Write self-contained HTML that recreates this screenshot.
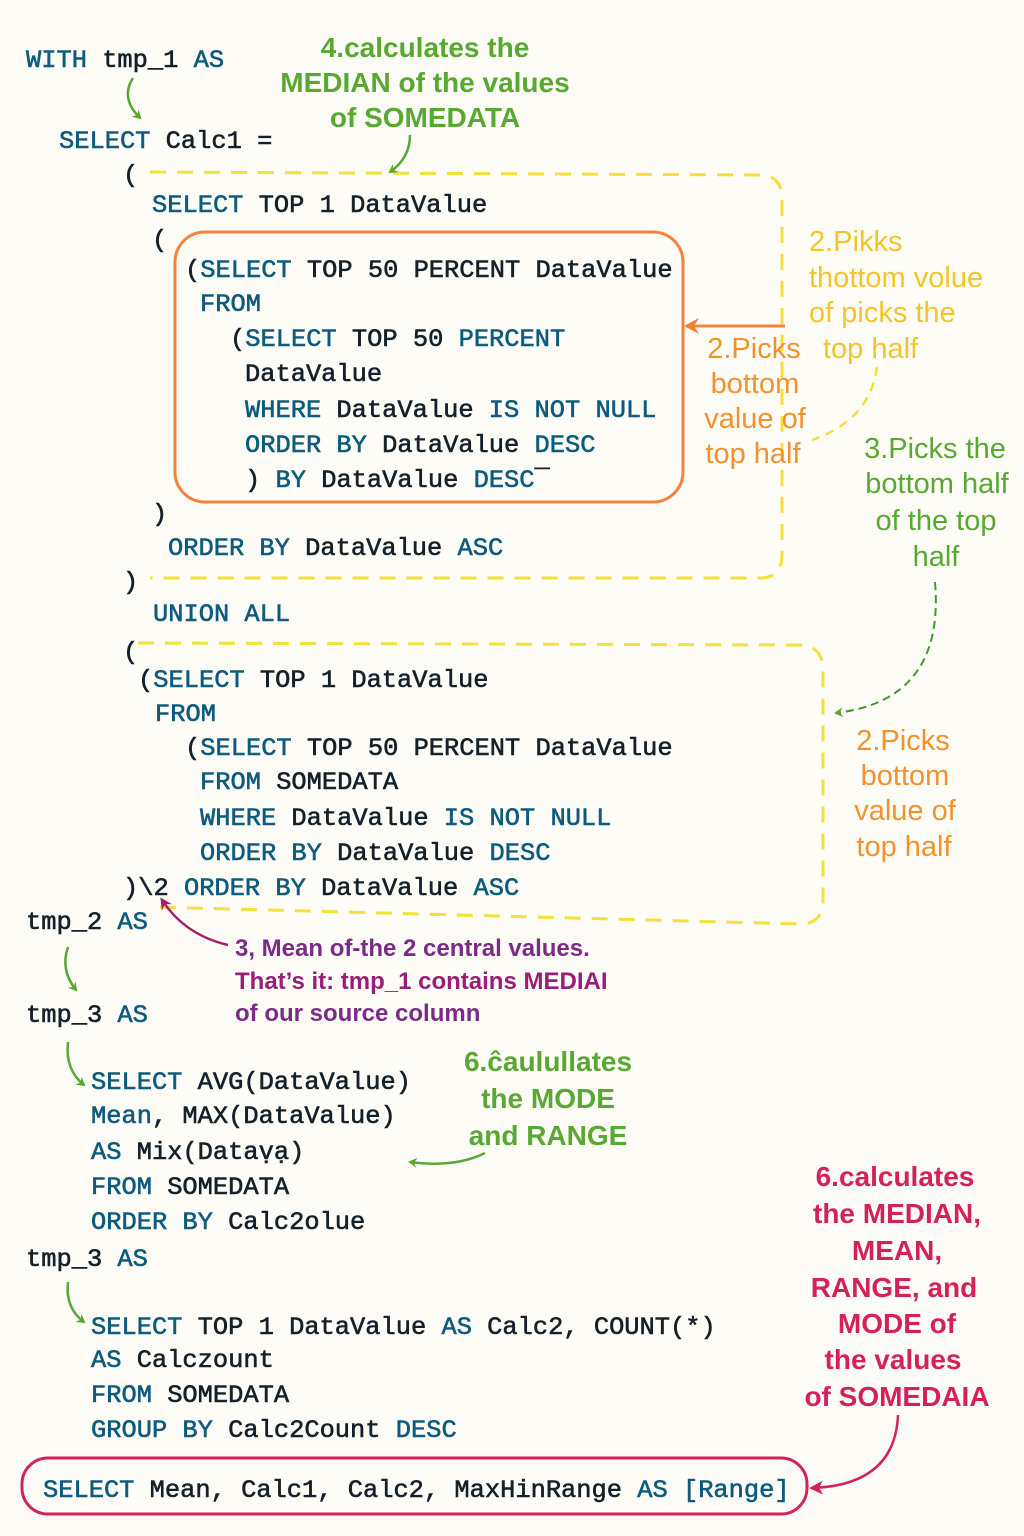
<!DOCTYPE html>
<html><head><meta charset="utf-8"><style>
html,body{margin:0;padding:0;background:#fdfcf7;}
svg{display:block}
.c{font-family:"Liberation Mono",monospace;font-size:25.4px;fill:#14202a;stroke:#14202a;stroke-width:0.6px;}
.k{fill:#0d5b7e;stroke:#0d5b7e;}
.a{font-family:"Liberation Sans",sans-serif;font-size:28px;}
.g{fill:#58a832;}
.y{fill:#f4c52a;}
.o{fill:#f3922c;}
.p{fill:#7b2b86;}
.m{fill:#9a1e78;}
.r{fill:#d4215e;}
</style></head><body>
<svg width="1024" height="1536" viewBox="0 0 1024 1536" xmlns="http://www.w3.org/2000/svg">
<defs>
<marker id="ag" markerWidth="10" markerHeight="10" refX="7" refY="5" orient="auto" markerUnits="userSpaceOnUse"><path d="M0,0 L9,5 L0,10 L3,5 Z" fill="#58a832"/></marker>
<marker id="ao" markerWidth="16" markerHeight="16" refX="13" refY="8" orient="auto" markerUnits="userSpaceOnUse"><path d="M0,0 L15,8 L0,16 L5,8 Z" fill="#f3822c"/></marker>
<marker id="am" markerWidth="12" markerHeight="12" refX="9" refY="6" orient="auto" markerUnits="userSpaceOnUse"><path d="M0,0 L12,6 L0,12 L4,6 Z" fill="#a81d6a"/></marker>
<marker id="ar" markerWidth="14" markerHeight="14" refX="11" refY="7" orient="auto" markerUnits="userSpaceOnUse"><path d="M0,0 L14,7 L0,14 L4,7 Z" fill="#d4215e"/></marker>
</defs>

<path d="M150,172 L760,175 Q782,176 782,198 L782,555 Q782,578 760,578 L150,578" fill="none" stroke="#f5e03a" stroke-width="3" stroke-dasharray="16,11"/>
<path d="M138,643 L800,645 Q823,646 823,670 L823,900 Q823,924 800,924 L155,907" fill="none" stroke="#f5e03a" stroke-width="3" stroke-dasharray="16,11"/>
<rect x="175" y="232" width="508" height="270" rx="30" fill="none" stroke="#f5823a" stroke-width="3"/>
<path d="M785,326 L686,326" stroke="#f5823a" stroke-width="3" marker-end="url(#ao)"/>
<rect x="22" y="1458" width="785" height="56" rx="26" fill="none" stroke="#d4215e" stroke-width="3"/>

<path d="M133,78 Q120,98 140,118" fill="none" stroke="#58a832" stroke-width="2.5" marker-end="url(#ag)"/>
<path d="M410,135 Q410,158 390,172" fill="none" stroke="#58a832" stroke-width="2.5" marker-end="url(#ag)"/>
<path d="M877,367 Q870,420 812,440" fill="none" stroke="#f5e03a" stroke-width="2.5" stroke-dasharray="9,7"/>
<path d="M935,582 Q945,700 836,713" fill="none" stroke="#3e9a2a" stroke-width="2" stroke-dasharray="8,5" marker-end="url(#ag)"/>
<path d="M228,945 Q185,935 162,900" fill="none" stroke="#a81d6a" stroke-width="2.5" marker-end="url(#am)"/>
<path d="M68,947 Q60,970 76,990" fill="none" stroke="#58a832" stroke-width="2.5" marker-end="url(#ag)"/>
<path d="M68,1042 Q65,1070 84,1085" fill="none" stroke="#58a832" stroke-width="2.5" marker-end="url(#ag)"/>
<path d="M485,1153 Q455,1168 410,1162" fill="none" stroke="#58a832" stroke-width="2.5" marker-end="url(#ag)"/>
<path d="M68,1282 Q65,1308 84,1322" fill="none" stroke="#58a832" stroke-width="2.5" marker-end="url(#ag)"/>
<path d="M898,1415 Q895,1485 812,1488" fill="none" stroke="#d4215e" stroke-width="2.5" marker-end="url(#ar)"/>

<g class="c">
<text x="26" y="67"><tspan class="k">WITH</tspan> tmp_1 <tspan class="k">AS</tspan></text>
<text x="59" y="148"><tspan class="k">SELECT</tspan> Calc1 =</text>
<text x="123" y="182">(</text>
<text x="152" y="212"><tspan class="k">SELECT</tspan> TOP 1 DataValue</text>
<text x="152" y="247">(</text>
<text x="185" y="277">(<tspan class="k">SELECT</tspan> TOP 50 PERCENT DataValue</text>
<text x="200" y="311" class="k">FROM</text>
<text x="230" y="346">(<tspan class="k">SELECT</tspan> TOP 50 <tspan class="k">PERCENT</tspan></text>
<text x="245" y="381">DataValue</text>
<text x="245" y="417"><tspan class="k">WHERE</tspan> DataValue <tspan class="k">IS NOT NULL</tspan></text>
<text x="245" y="452"><tspan class="k">ORDER BY</tspan> DataValue <tspan class="k">DESC</tspan></text>
<text x="245" y="487">) <tspan class="k">BY</tspan> DataValue <tspan class="k">DESC</tspan>‾</text>
<text x="152" y="521">)</text>
<text x="168" y="555"><tspan class="k">ORDER BY</tspan> DataValue <tspan class="k">ASC</tspan></text>
<text x="123" y="589">)</text>
<text x="153" y="621" class="k">UNION ALL</text>
<text x="123" y="659">(</text>
<text x="138" y="687">(<tspan class="k">SELECT</tspan> TOP 1 DataValue</text>
<text x="155" y="721" class="k">FROM</text>
<text x="185" y="755">(<tspan class="k">SELECT</tspan> TOP 50 PERCENT DataValue</text>
<text x="200" y="789"><tspan class="k">FROM</tspan> SOMEDATA</text>
<text x="200" y="825"><tspan class="k">WHERE</tspan> DataValue <tspan class="k">IS NOT NULL</tspan></text>
<text x="200" y="860"><tspan class="k">ORDER BY</tspan> DataValue <tspan class="k">DESC</tspan></text>
<text x="123" y="895">)\2 <tspan class="k">ORDER BY</tspan> DataValue <tspan class="k">ASC</tspan></text>
<text x="26" y="929">tmp_2 <tspan class="k">AS</tspan></text>
<text x="26" y="1022">tmp_3 <tspan class="k">AS</tspan></text>
<text x="91" y="1089"><tspan class="k">SELECT</tspan> AVG(DataValue)</text>
<text x="91" y="1123"><tspan class="k">Mean</tspan>, MAX(DataValue)</text>
<text x="91" y="1159"><tspan class="k">AS</tspan> Mix(Dataṿạ)</text>
<text x="91" y="1194"><tspan class="k">FROM</tspan> SOMEDATA</text>
<text x="91" y="1229"><tspan class="k">ORDER BY</tspan> Calc2olue</text>
<text x="26" y="1266">tmp_3 <tspan class="k">AS</tspan></text>
<text x="91" y="1334"><tspan class="k">SELECT</tspan> TOP 1 DataValue <tspan class="k">AS</tspan> Calc2, COUNT(*)</text>
<text x="91" y="1367"><tspan class="k">AS</tspan> Calczount</text>
<text x="91" y="1402"><tspan class="k">FROM</tspan> SOMEDATA</text>
<text x="91" y="1437"><tspan class="k">GROUP BY</tspan> Calc2Count <tspan class="k">DESC</tspan></text>
<text x="43" y="1497"><tspan class="k">SELECT</tspan> Mean, Calc1, Calc2, MaxHinRange <tspan class="k">AS [Range]</tspan></text>
</g>

<g class="a" text-anchor="middle" font-weight="bold">
<text class="g" x="425" y="57">4.calculates the</text>
<text class="g" x="425" y="92">MEDIAN of the values</text>
<text class="g" x="425" y="127">of SOMEDATA</text>
<text class="g" x="548" y="1071">6.ĉaulullates</text>
<text class="g" x="548" y="1108">the MODE</text>
<text class="g" x="548" y="1145">and RANGE</text>
<g class="r">
<text x="895" y="1186">6.calculates</text>
<text x="897" y="1223">the MEDIAN,</text>
<text x="897" y="1260">MEAN,</text>
<text x="894" y="1297">RANGE, and</text>
<text x="897" y="1333">MODE of</text>
<text x="893" y="1369">the values</text>
<text x="897" y="1406">of SOMEDAIA</text>
</g>
</g>
<g class="a" style="font-size:29px">
<g class="y">
<text x="809" y="251">2.Pikks</text>
<text x="809" y="287">thottom volue</text>
<text x="809" y="322">of picks the</text>
<text x="823" y="358">top half</text>
</g>
<g class="o" text-anchor="middle">
<text x="754" y="358">2.Picks</text>
<text x="755" y="393">bottom</text>
<text x="755" y="428">value of</text>
<text x="753" y="463">top half</text>
<text x="903" y="750">2.Picks</text>
<text x="905" y="785">bottom</text>
<text x="905" y="820">value of</text>
<text x="904" y="856">top half</text>
</g>
<g class="g" text-anchor="middle">
<text x="935" y="458">3.Picks the</text>
<text x="937" y="493">bottom half</text>
<text x="936" y="530">of the top</text>
<text x="936" y="566">half</text>
</g>
</g>
<g class="a" font-weight="bold" style="font-size:24px">
<text x="235" y="956" class="p">3, Mean of-the 2 central values.</text>
<text x="235" y="989" class="m">That’s it: tmp_1 contains MEDIAI</text>
<text x="235" y="1021" class="p">of our source column</text>
</g>
</svg>
</body></html>
